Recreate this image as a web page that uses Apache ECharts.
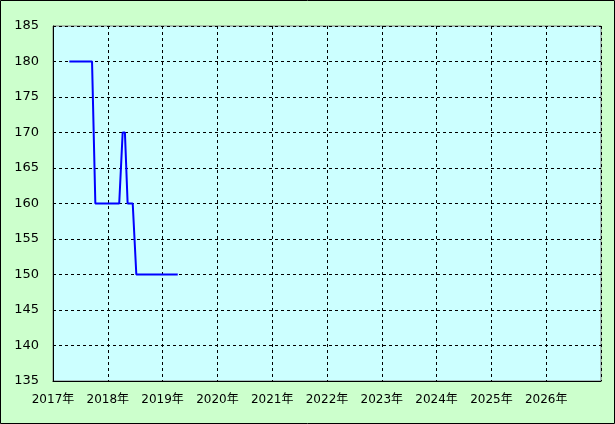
<!DOCTYPE html>
<html><head><meta charset="utf-8">
<script src="https://cdn.jsdelivr.net/npm/echarts@6/dist/echarts.min.js"></script>
<style>html,body{margin:0;padding:0;background:#ccffcc;}#c{width:615px;height:424px;}</style>
</head><body><div id="c"></div>
<script>
// Data (dates of each vertex, values)
var dates = ['2017-04-20','2017-09-18','2017-10-10','2018-03-18','2018-04-10','2018-04-25','2018-05-13','2018-06-16','2018-07-10','2019-04-12'];
var values = [180,180,160,160,170,170,160,160,150,150];
var yearTicks = [2017,2018,2019,2020,2021,2022,2023,2024,2025,2026,2027];
var yTicks = [135,140,145,150,155,160,165,170,175,180,185];

function toYear(s){
  var p = s.split('-').map(Number);
  var start = Date.UTC(p[0],0,1), end = Date.UTC(p[0]+1,0,1);
  return p[0] + (Date.UTC(p[0],p[1]-1,p[2]) - start)/(end-start);
}
var seriesData = dates.map(function(d,i){ return [toYear(d), values[i]]; });

var chart = echarts.init(document.getElementById('c'), null, {renderer:'canvas'});
var font = '"DejaVu Sans", "Noto Sans CJK JP", sans-serif';
chart.setOption({
  animation:false,
  backgroundColor:'#ccffcc',
  graphic:[{type:'rect', shape:{x:0.5,y:0.5,width:614,height:423}, style:{fill:'none',stroke:'#000',lineWidth:1}, z:100}],
  grid:{left:53, top:26, right:14, bottom:43, show:true, backgroundColor:'#ccffff', borderColor:'#808080', borderWidth:1},
  xAxis:{type:'value', min:yearTicks[0], max:yearTicks[yearTicks.length-1], interval:1,
    axisLine:{show:true, lineStyle:{color:'#000',width:1}}, axisTick:{show:false},
    splitLine:{show:true, lineStyle:{color:'#000', type:[3,3], width:1}},
    axisLabel:{color:'#000', fontFamily:font, fontSize:12, margin:13,
      formatter:function(v){ return v>=yearTicks[yearTicks.length-1] ? '' : v+'年'; }}},
  yAxis:{type:'value', min:yTicks[0], max:yTicks[yTicks.length-1], interval:5,
    axisLine:{show:true, lineStyle:{color:'#000',width:1}}, axisTick:{show:false},
    splitLine:{show:true, lineStyle:{color:'#000', type:[3,3], width:1}},
    axisLabel:{color:'#000', fontFamily:font, fontSize:13, margin:14}},
  series:[{type:'line', data:seriesData, showSymbol:false, symbol:'none',
    lineStyle:{color:'#0000ff', width:2}, z:5}]
});
</script></body></html>
